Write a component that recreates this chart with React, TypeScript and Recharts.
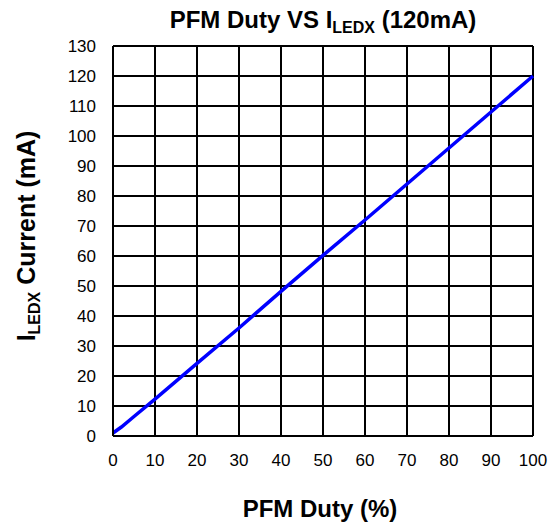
import React from 'react';
import { LineChart, Line, XAxis, YAxis, CartesianGrid } from 'recharts';

const dutyPct = [0, 2, 5, 10, 20, 30, 40, 50, 60, 70, 80, 90, 100];
const currentMa = [1, 3, 6.5, 12.3, 24.2, 36, 48.2, 60.2, 72, 84, 96, 108, 120];
const xTicks = [0, 10, 20, 30, 40, 50, 60, 70, 80, 90, 100];
const yTicks = [0, 10, 20, 30, 40, 50, 60, 70, 80, 90, 100, 110, 120, 130];

const data = dutyPct.map((d, i) => ({ duty: d, current: currentMa[i] }));

const FONT = '"Liberation Sans", Arial, sans-serif';

const App: React.FC = () => {
  return (
    <div style={{ position: 'absolute', left: 0, top: 0, width: 559, height: 530, background: '#fff', fontFamily: FONT }}>
      <LineChart width={559} height={530} data={data} margin={{ top: 46, right: 26, bottom: 64, left: 0 }}>
        <CartesianGrid stroke="#000" strokeWidth={2} strokeOpacity={1} />
        <XAxis
          dataKey="duty"
          type="number"
          domain={[0, 100]}
          ticks={xTicks}
          interval={0}
          tickLine={false}
          tickSize={0}
          tickMargin={18}
          axisLine={{ stroke: '#000', strokeWidth: 2 }}
          tick={{ fill: '#000', fontSize: 17, fontFamily: FONT }}
        />
        <YAxis
          type="number"
          domain={[0, 130]}
          ticks={yTicks}
          interval={0}
          width={113}
          tickLine={false}
          tickSize={0}
          tickMargin={17}
          axisLine={{ stroke: '#000', strokeWidth: 2 }}
          tick={{ fill: '#000', fontSize: 17, fontFamily: FONT }}
        />
        <Line
          dataKey="current"
          type="linear"
          stroke="#0000ff"
          strokeWidth={3.5}
          dot={false}
          isAnimationActive={false}
        />
      </LineChart>
      <svg width={559} height={530} style={{ position: 'absolute', left: 0, top: 0, pointerEvents: 'none' }}>
        <text x={323} y={28} textAnchor="middle" fontFamily={FONT} fontWeight="bold" fontSize={24} fill="#000">
          PFM Duty VS I<tspan fontSize={16} dy={5}>LEDX</tspan><tspan dy={-5}> (120mA)</tspan>
        </text>
        <text x={320} y={517} textAnchor="middle" fontFamily={FONT} fontWeight="bold" fontSize={24} fill="#000">
          PFM Duty (%)
        </text>
        <text
          x={0}
          y={0}
          transform="translate(35,236) rotate(-90)"
          textAnchor="middle"
          fontFamily={FONT}
          fontWeight="bold"
          fontSize={25}
          fill="#000"
        >
          I<tspan fontSize={16} dy={5}>LEDX</tspan><tspan dy={-5}> Current (mA)</tspan>
        </text>
      </svg>
    </div>
  );
};

export default App;
